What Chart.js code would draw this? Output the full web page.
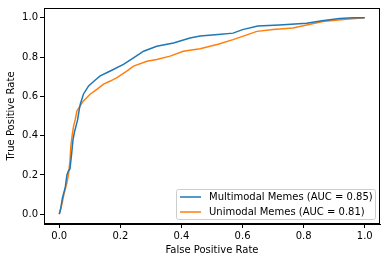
<!DOCTYPE html>
<html>
<head>
<meta charset="utf-8">
<script src="https://cdn.jsdelivr.net/npm/chart.js@4"></script>
<style>
  html, body { margin: 0; padding: 0; background: #fff; }
  #wrap { width: 386px; height: 262px; }
</style>
</head>
<body>
<div id="wrap"><canvas id="roc"></canvas></div>
<script>
// ROC curve points
const multiFpr = [0, 0.005, 0.01, 0.015, 0.02, 0.025, 0.03, 0.035, 0.04, 0.045, 0.05, 0.055, 0.06, 0.065, 0.069, 0.079, 0.096, 0.117, 0.134, 0.167, 0.21, 0.243, 0.276, 0.319, 0.374, 0.428, 0.461, 0.52, 0.569, 0.6, 0.65, 0.72, 0.81, 0.86, 0.918, 0.96, 1];
const multiTpr = [0, 0.03, 0.08, 0.11, 0.14, 0.2, 0.22, 0.23, 0.3, 0.38, 0.42, 0.45, 0.48, 0.53, 0.561, 0.611, 0.653, 0.682, 0.704, 0.729, 0.763, 0.796, 0.83, 0.855, 0.872, 0.897, 0.907, 0.915, 0.922, 0.94, 0.958, 0.963, 0.972, 0.985, 0.997, 1.0, 1.0];

const uniFpr = [0, 0.01, 0.015, 0.02, 0.025, 0.03, 0.035, 0.038, 0.043, 0.047, 0.052, 0.058, 0.079, 0.101, 0.123, 0.145, 0.167, 0.189, 0.221, 0.243, 0.287, 0.319, 0.363, 0.406, 0.461, 0.52, 0.569, 0.647, 0.7, 0.765, 0.863, 0.93, 1];
const uniTpr = [0, 0.06, 0.1, 0.13, 0.16, 0.2, 0.27, 0.35, 0.41, 0.45, 0.48, 0.527, 0.577, 0.611, 0.636, 0.662, 0.678, 0.695, 0.729, 0.754, 0.779, 0.788, 0.805, 0.83, 0.843, 0.865, 0.889, 0.931, 0.94, 0.948, 0.981, 0.992, 1.0];

const tickValues = [0, 0.2, 0.4, 0.6, 0.8, 1.0];
const seriesLabels = ['Multimodal Memes (AUC = 0.85)', 'Unimodal Memes (AUC = 0.81)'];
const seriesColors = ['#1f77b4', '#ff7f0e'];

const toPoints = (xs, ys) => xs.map((x, i) => ({ x: x, y: ys[i] }));
const fontFamily = "'DejaVu Sans', sans-serif";

// spines on all four sides
const frame = {
    id: 'frame',
    afterDraw(chart) {
        const { ctx, chartArea: a } = chart;
        ctx.save();
        ctx.strokeStyle = '#000';
        ctx.lineWidth = 1;
        ctx.strokeRect(Math.round(a.left) + 0.5, Math.round(a.top) + 0.5,
            Math.round(a.right - a.left) - 1, Math.round(a.bottom - a.top) - 1);
        ctx.restore();
    }
};

// matplotlib-style legend box in the lower right corner
const boxLegend = {
    id: 'boxLegend',
    afterDraw(chart) {
        const { ctx, chartArea: a } = chart;
        ctx.save();
        ctx.font = '10px ' + fontFamily;
        const w = 199, h = 30;
        const x0 = a.right - 5 - w, y0 = a.bottom - 5 - h;
        ctx.fillStyle = 'rgba(255,255,255,0.8)';
        ctx.strokeStyle = '#cccccc';
        ctx.lineWidth = 1;
        ctx.beginPath();
        ctx.roundRect(x0 + 0.5, y0 + 0.5, w, h, 2);
        ctx.fill();
        ctx.stroke();
        seriesLabels.forEach((label, i) => {
            const y = y0 + 8 + i * 15;
            ctx.strokeStyle = seriesColors[i];
            ctx.lineWidth = 1.5;
            ctx.beginPath();
            ctx.moveTo(x0 + 4, y);
            ctx.lineTo(x0 + 25, y);
            ctx.stroke();
            ctx.fillStyle = '#000';
            ctx.textBaseline = 'middle';
            ctx.fillText(label, x0 + 33, y);
        });
        ctx.restore();
    }
};

const ctx = document.getElementById('roc').getContext('2d');
new Chart(ctx, {
    type: 'scatter',
    data: {
        datasets: [{
            label: seriesLabels[0],
            data: toPoints(multiFpr, multiTpr),
            showLine: true,
            borderColor: seriesColors[0],
            borderWidth: 1.5,
            pointRadius: 0,
            tension: 0
        }, {
            label: seriesLabels[1],
            data: toPoints(uniFpr, uniTpr),
            showLine: true,
            borderColor: seriesColors[1],
            borderWidth: 1.5,
            pointRadius: 0,
            tension: 0
        }]
    },
    options: {
        responsive: true,
        maintainAspectRatio: false,
        animation: false,
        layout: { padding: { top: 6, right: 6, left: 5, bottom: 6 } },
        scales: {
            x: {
                min: -0.05,
                max: 1.05,
                afterBuildTicks: s => { s.ticks = tickValues.map(v => ({ value: v })); },
                afterFit: s => { s.height = 32; },
                grid: { drawOnChartArea: false, drawTicks: true, tickLength: 4, color: '#000' },
                border: { display: true, color: '#000' },
                ticks: {
                    color: '#000',
                    padding: 2,
                    maxRotation: 0,
                    font: { size: 10, family: fontFamily },
                    callback: v => v.toFixed(1)
                },
                title: {
                    display: true,
                    text: 'False Positive Rate',
                    color: '#000',
                    padding: { top: 3, bottom: 0 },
                    font: { size: 10, family: fontFamily }
                }
            },
            y: {
                min: -0.05,
                max: 1.05,
                afterBuildTicks: s => { s.ticks = tickValues.map(v => ({ value: v })); },
                afterFit: s => { s.width = 39; },
                grid: { drawOnChartArea: false, drawTicks: true, tickLength: 4, color: '#000' },
                border: { display: true, color: '#000' },
                ticks: {
                    color: '#000',
                    padding: 2,
                    font: { size: 10, family: fontFamily },
                    callback: v => v.toFixed(1)
                },
                title: {
                    display: true,
                    text: 'True Positive Rate',
                    color: '#000',
                    padding: { top: 0, bottom: 2 },
                    font: { size: 10, family: fontFamily }
                }
            }
        },
        plugins: {
            legend: { display: false },
            tooltip: { enabled: false }
        }
    },
    plugins: [frame, boxLegend]
});
</script>
</body>
</html>
